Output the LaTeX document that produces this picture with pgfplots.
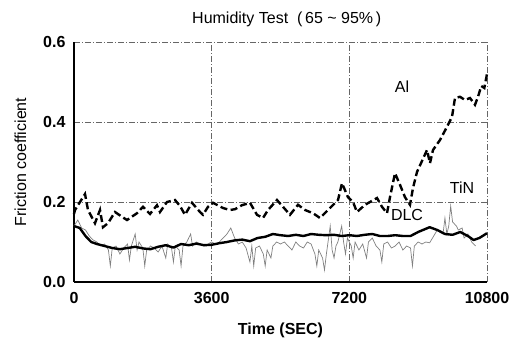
\documentclass[border=0pt]{standalone}
\usepackage{pgfplots}
\pgfplotsset{compat=1.18}
\usepackage{fontspec}
\setmainfont{Liberation Sans}
\begin{document}
\begin{tikzpicture}
\path[use as bounding box] (-74pt,-63pt) rectangle (450pt,282pt);
\begin{axis}[
  scale only axis, width=413pt, height=240pt,
  xmin=0, xmax=10800, ymin=0, ymax=0.6,
  scaled x ticks=false,
  xtick={0,3600,7200,10800}, ytick={0,0.2,0.4,0.6},
  xticklabels={0,3600,7200,10800},
  yticklabels={0.0,0.2,0.4,0.6},
  axis x line*=bottom, axis y line*=left,
  axis line style={line width=1.6pt, black},
  x axis line style={-}, y axis line style={-},
  major tick length=0pt,
  grid=major, grid style={black!60, line width=0.5pt, dash pattern=on 6pt off 2pt on 1pt off 2pt},
  tick label style={font=\fontsize{16}{18}\selectfont\bfseries},
  xticklabel style={yshift=-7pt},
  yticklabel style={xshift=-5pt},
  title={Humidity Test\ \ (\,65 \textasciitilde\ 95\%\,)},
  title style={font=\fontsize{16}{18}\selectfont, at={(axis description cs:0.515,1.07)}, anchor=center},
  xlabel={Time (SEC)},
  xlabel style={font=\fontsize{16}{18}\selectfont\bfseries, at={(axis description cs:0.5,-0.2)}, anchor=center},
  ylabel={Friction coefficient},
  ylabel style={font=\fontsize{16}{18}\selectfont, at={(axis description cs:-0.13,0.5)}, anchor=center},
  clip=false,
]
% TiN
\addplot[black!50, line width=0.7pt] coordinates {
(0,0.14)(100,0.155)(200,0.135)(300,0.13)(400,0.115)(500,0.105)(600,0.10)(700,0.09)(800,0.095)(900,0.08)(950,0.04)(1000,0.085)(1100,0.09)(1200,0.07)(1300,0.085)(1400,0.095)(1450,0.055)(1500,0.09)(1600,0.12)(1650,0.08)(1700,0.1)(1800,0.085)(1850,0.04)(1900,0.08)(2000,0.09)(2100,0.085)(2200,0.075)(2300,0.09)(2400,0.06)(2450,0.095)(2550,0.085)(2600,0.05)(2650,0.09)(2750,0.08)(2800,0.04)(2850,0.09)(2950,0.1)(3050,0.12)(3100,0.09)(3200,0.1)(3300,0.095)(3400,0.09)(3500,0.095)(3600,0.1)(3700,0.095)(3800,0.1)(3900,0.11)(4000,0.12)(4100,0.135)(4200,0.11)(4300,0.095)(4400,0.1)(4500,0.085)(4600,0.05)(4650,0.09)(4700,0.04)(4750,0.085)(4850,0.09)(4950,0.07)(5000,0.04)(5050,0.08)(5150,0.06)(5200,0.09)(5300,0.1)(5400,0.095)(5500,0.1)(5600,0.09)(5700,0.08)(5800,0.1)(5900,0.09)(6000,0.085)(6100,0.1)(6200,0.095)(6300,0.07)(6350,0.04)(6400,0.08)(6500,0.06)(6550,0.03)(6600,0.07)(6700,0.14)(6750,0.08)(6800,0.06)(6850,0.09)(6900,0.1)(7000,0.14)(7050,0.1)(7100,0.07)(7150,0.11)(7250,0.09)(7300,0.06)(7350,0.1)(7450,0.08)(7550,0.095)(7650,0.06)(7700,0.1)(7800,0.11)(7900,0.09)(8000,0.08)(8050,0.05)(8100,0.095)(8200,0.1)(8300,0.085)(8400,0.09)(8500,0.1)(8600,0.08)(8700,0.09)(8800,0.085)(8850,0.04)(8900,0.09)(9000,0.1)(9100,0.095)(9200,0.1)(9300,0.098)(9500,0.13)(9650,0.12)(9700,0.16)(9750,0.12)(9800,0.14)(9850,0.19)(9900,0.15)(10000,0.14)(10050,0.13)(10150,0.135)(10200,0.11)(10300,0.12)(10400,0.1)(10500,0.09)
};
% DLC
\addplot[black, line width=2.4pt, line join=round] coordinates {
(0,0.14)(150,0.135)(300,0.115)(450,0.1)(600,0.095)(800,0.09)(1000,0.085)(1200,0.082)(1400,0.085)(1600,0.088)(1800,0.084)(2000,0.082)(2200,0.088)(2400,0.092)(2600,0.086)(2800,0.095)(3000,0.092)(3200,0.096)(3400,0.092)(3600,0.093)(3800,0.097)(4000,0.1)(4200,0.104)(4400,0.106)(4600,0.102)(4800,0.11)(5000,0.113)(5200,0.12)(5400,0.117)(5600,0.115)(5800,0.118)(6000,0.115)(6200,0.12)(6400,0.118)(6600,0.117)(6800,0.118)(7000,0.115)(7200,0.117)(7400,0.115)(7600,0.118)(7800,0.12)(8000,0.115)(8200,0.115)(8400,0.117)(8600,0.115)(8800,0.115)(9000,0.125)(9300,0.137)(9500,0.13)(9700,0.12)(9900,0.118)(10100,0.125)(10300,0.115)(10450,0.105)(10600,0.11)(10800,0.122)
};
% Al
\addplot[black, line width=2.4pt, dash pattern=on 7pt off 3.5pt] coordinates {
(0,0.17)(26,0.18)(288,0.22)(366,0.18)(549,0.147)(680,0.18)(758,0.137)(889,0.147)(1072,0.175)(1255,0.163)(1386,0.155)(1648,0.172)(1804,0.188)(1987,0.17)(2170,0.192)(2249,0.175)(2432,0.2)(2641,0.205)(2772,0.19)(2903,0.168)(3086,0.198)(3295,0.175)(3373,0.168)(3504,0.188)(3635,0.198)(3896,0.185)(4079,0.18)(4210,0.182)(4393,0.192)(4602,0.198)(4785,0.168)(4942,0.16)(5073,0.18)(5308,0.205)(5465,0.188)(5648,0.168)(5858,0.193)(6041,0.18)(6250,0.172)(6433,0.16)(6642,0.18)(6904,0.205)(7008,0.247)(7165,0.212)(7296,0.2)(7400,0.175)(7610,0.193)(7740,0.2)(7923,0.21)(8054,0.188)(8185,0.172)(8263,0.212)(8394,0.272)(8525,0.243)(8656,0.212)(8786,0.193)(8865,0.235)(8969,0.275)(9231,0.33)(9309,0.297)(9388,0.33)(9571,0.355)(9754,0.388)(9885,0.413)(9963,0.46)(10094,0.463)(10225,0.455)(10355,0.46)(10486,0.443)(10565,0.463)(10650,0.49)(10730,0.485)(10800,0.52)
};
\node[font=\fontsize{16}{18}\selectfont] at (axis cs:8577,0.4875) {Al};
\node[font=\fontsize{16}{18}\selectfont] at (axis cs:10146,0.235) {TiN};
\node[font=\fontsize{16}{18}\selectfont] at (axis cs:8708,0.168) {DLC};
\end{axis}
\end{tikzpicture}
\end{document}
